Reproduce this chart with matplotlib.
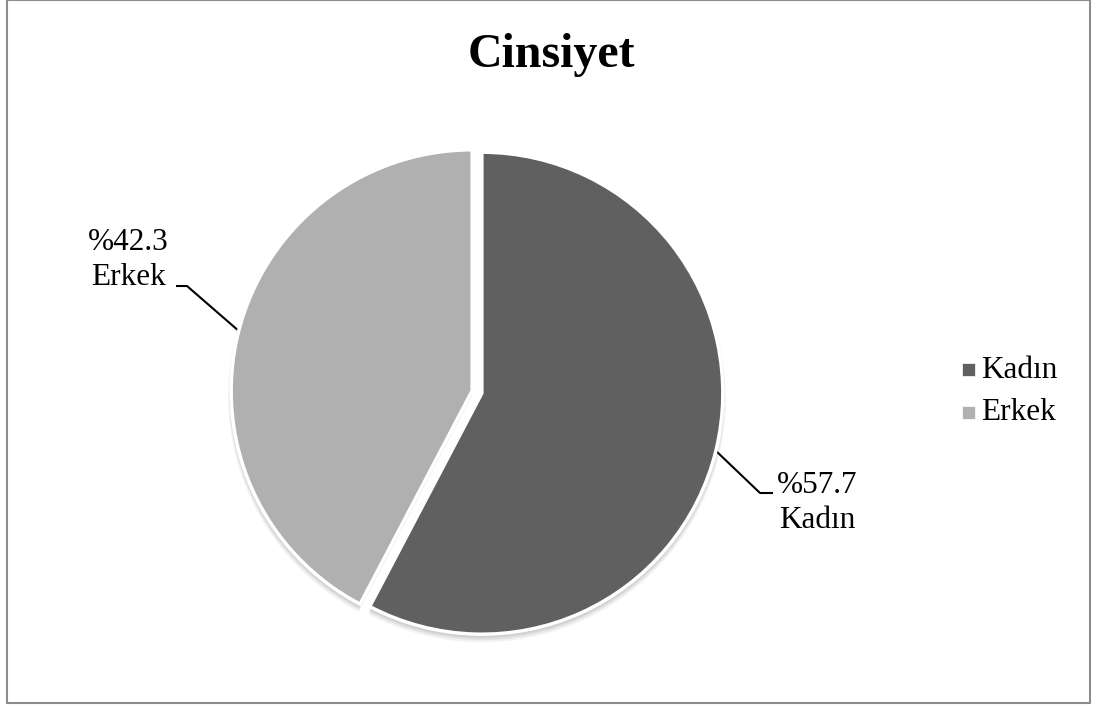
import matplotlib
matplotlib.use("Agg")
import matplotlib.pyplot as plt
from matplotlib.patches import Rectangle, Wedge

categories = ["Kadın", "Erkek"]
percentages = [57.7, 42.3]
colors = ["#606060", "#b0b0b0"]
title = "Cinsiyet"

W, H = 1096, 709
plt.rcParams["font.family"] = ["Liberation Serif", "DejaVu Serif"]

fig = plt.figure(figsize=(W / 100, H / 100), dpi=100)
ax = fig.add_axes([0, 0, 1, 1])


def py(y):
    # pixel row from the top -> data y
    return H - y


cx, cy, r = 477, py(392), 241
wedges, _ = ax.pie(
    percentages,
    colors=colors,
    startangle=90,
    counterclock=False,
    center=(cx, cy),
    radius=r,
    explode=[5, 5],
    wedgeprops=dict(edgecolor="white", linewidth=2.5, zorder=3),
)

# soft drop shadow under each slice
for w in wedges:
    for dy, grow, a in [(5, 3, 0.05), (4, 2, 0.06), (3, 1, 0.07), (2, 0, 0.08)]:
        ax.add_patch(Wedge((w.center[0], w.center[1] - dy), w.r + grow,
                           w.theta1, w.theta2, facecolor="black",
                           edgecolor="none", alpha=a, zorder=1))

ax.set_xlim(0, W)
ax.set_ylim(0, H)
ax.set_aspect("equal")
ax.axis("off")

# outer border of the chart area
ax.add_patch(Rectangle((7, py(703)), 1083, 703, fill=False,
                       edgecolor="#8c8c8c", linewidth=1.5, zorder=0))

ax.text(551, py(55), title, ha="center", va="center",
        fontsize=34.5, fontweight="bold", color="black")

# data labels with leader lines
lab_fs = 22.5
ax.text(817, py(503), f"%{percentages[0]:.1f}\n{categories[0]}",
        ha="center", va="center", fontsize=lab_fs, linespacing=1.25)
ax.plot([715, 760, 772], [py(450), py(493), py(493)], color="black", lw=1.5)

ax.text(128, py(260), f"%{percentages[1]:.1f}\n{categories[1]}",
        ha="center", va="center", fontsize=lab_fs, linespacing=1.25)
ax.plot([240, 187, 177], [py(332), py(286), py(286)], color="black", lw=1.5)

# legend
for i, (cat, col) in enumerate(zip(categories, colors)):
    yc = 369 + i * 43
    ax.add_patch(Rectangle((962, py(yc + 7)), 13, 13, facecolor=col,
                           edgecolor="white", lw=0.5))
    ax.text(981, py(yc + 1), cat, ha="left", va="center", fontsize=lab_fs)

fig.savefig("out.png", dpi=100)
